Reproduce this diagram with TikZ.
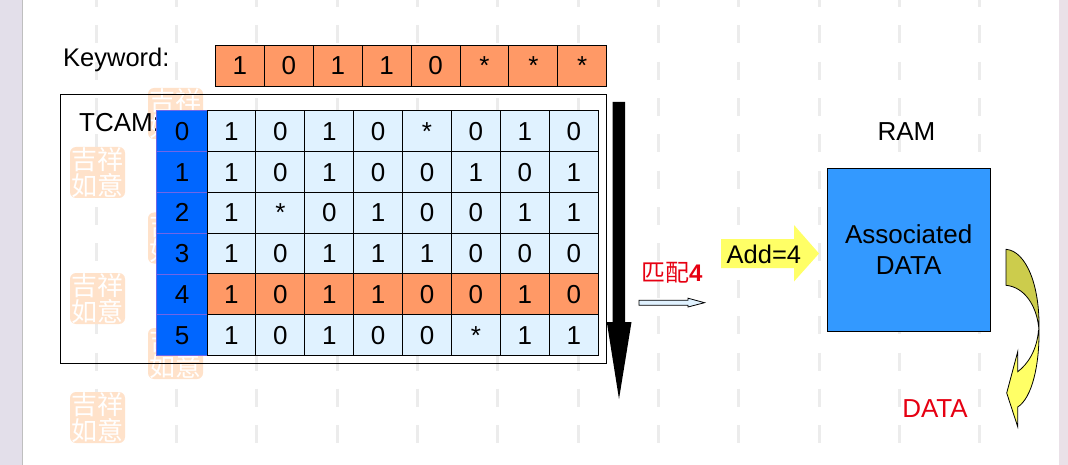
\documentclass[tikz,border=0pt]{standalone}
\usepackage{fontspec}
\setmainfont{Liberation Sans}
\newfontfamily\cjkfont{Noto Sans CJK SC}
\definecolor{orangecell}{HTML}{FF9966}
\definecolor{lightcell}{HTML}{E0F2FF}
\definecolor{indexblue}{HTML}{0066FF}
\definecolor{indexline}{HTML}{7066E6}
\definecolor{ramblue}{HTML}{3399FF}
\definecolor{arrowyellow}{HTML}{FFFF66}
\definecolor{arrowolive}{HTML}{CCCC4C}
\definecolor{labelred}{HTML}{E60012}
\definecolor{sealpeach}{HTML}{FFE2CA}
\definecolor{dashgrey}{HTML}{ECECEC}
\definecolor{sideleft}{HTML}{E3DFEA}
\definecolor{sideright}{HTML}{EAE1E8}
\tikzset{
  bigtext/.style={font=\fontsize{26}{30}\selectfont,inner sep=0pt,text=black},
  cellbox/.style={draw=black,line width=0.9pt,minimum width=48.9pt,minimum height=40.83pt,
    inner sep=0pt,text height=18.6pt,text depth=0pt,font=\fontsize{26}{30}\selectfont},
  indexbox/.style={cellbox,draw=indexline,line width=0.6pt,fill=indexblue,minimum width=50.5pt},
  sealbox/.style={fill=sealpeach,rounded corners=6pt,minimum width=55pt,minimum height=51pt,inner sep=0pt,
    text=white,align=center,font=\cjkfont\fontsize{26}{24}\selectfont},
  blockarrow/.style={draw=black,line width=0.8pt,line join=miter},
  gridfence/.style={draw=dashgrey,line width=3pt},
}
\newcommand{\tablerow}[3]{%
  \pgfmathsetmacro{\rowy}{110.5+40.83*#1+20.4}
  \node[indexbox] (idx#1) at (182,\rowy) {#1};
  \def\rowvals{#3}
  \foreach \v [count=\c] in \rowvals {
    \pgfmathsetmacro{\colx}{207+48.9*(\c-0.5)}
    \node[cellbox,fill=#2] (r#1c\c) at (\colx,\rowy) {\v};
  }
}
\begin{document}
\begin{tikzpicture}[x=1pt,y=-1pt]
\useasboundingbox (0,0) rectangle (1068,465);
\fill[white] (0,0) rectangle (1068,465);
\fill[sideleft] (0,0) rectangle (22,465);
\fill[sideright] (1059,0) rectangle (1068,465);
\draw[line width=1pt,draw=gray!50] (22.5,0) -- (22.5,465);
% background fence of dashes
\foreach \i in {0,...,11}{
  \pgfmathsetmacro{\fx}{96+80.35*\i}
  \foreach \j in {0,...,12}{
    \pgfmathsetmacro{\fy}{-11+36.35*\j}
    \draw[gridfence] (\fx,\fy) -- (\fx,\fy+18);
  }
}
% seals
\foreach \n/\sx/\sy in {a/97.5/172.5,b/97.5/298.5,c/97.5/417.5,d/175.5/113.5,e/175.5/238,f/175.5/353.5}{
  \node[sealbox] (seal\n) at (\sx,\sy) {吉祥\\如意};
}
% Keyword
\node[font=\fontsize{25.5}{30}\selectfont,inner sep=0pt,anchor=base west] (kwlabel) at (63,67) {Keyword:};
\foreach \v [count=\c] in {1,0,1,1,0,*,*,*}{
  \pgfmathsetmacro{\colx}{215.5+48.9*(\c-0.5)}
  \node[cellbox,fill=orangecell,minimum height=41pt] (kw\c) at (\colx,65.5) {\v};
}
% TCAM frame
\node[draw=black,line width=0.9pt,minimum width=546pt,minimum height=268.5pt,inner sep=0pt] (tcamframe) at (333.5,228.7) {};
\node[bigtext,anchor=base west] (tcamlabel) at (79,132) {TCAM:};
% Table
\tablerow{0}{lightcell}{1,0,1,0,*,0,1,0}
\tablerow{1}{lightcell}{1,0,1,0,0,1,0,1}
\tablerow{2}{lightcell}{1,*,0,1,0,0,1,1}
\tablerow{3}{lightcell}{1,0,1,1,1,0,0,0}
\tablerow{4}{orangecell}{1,0,1,1,0,0,1,0}
\tablerow{5}{lightcell}{1,0,1,0,0,*,1,1}
% black search arrow
\fill[black] (612.5,102) -- (625,102) -- (625,322) -- (631.5,322) -- (619,399) -- (606.8,322) -- (612.5,322) -- cycle;
% match label and arrow
\node[inner sep=0pt,text=labelred,anchor=west] (matchlabel) at (641,273)
  {{\cjkfont\fontsize{24}{26}\selectfont 匹配}{\fontsize{24}{26}\selectfont\bfseries 4}};
\draw[blockarrow,fill=lightcell] (639,300.2) -- (688,300.2) -- (688,298.2) -- (704.5,302.7) -- (688,307) -- (688,305.2) -- (639,305.2) -- cycle;
% Add=4
\fill[arrowyellow] (721,239) -- (794,239) -- (794,225) -- (819,253.5) -- (794,281.5) -- (794,268) -- (721,268) -- cycle;
\node[font=\fontsize{25.5}{30}\selectfont,inner sep=0pt,anchor=base west] (addlabel) at (726.5,263) {Add=4};
% RAM
\node[bigtext] (ramlabel) at (906.5,131.5) {RAM};
\node[draw=black,line width=0.9pt,fill=ramblue,minimum width=163.5pt,minimum height=162.5pt,
  inner sep=0pt,align=center,font=\fontsize{26}{31}\selectfont] (rambox) at (908.7,249.7) {Associated\\DATA};
% curved arrow
\path[blockarrow,fill=arrowyellow,draw=black]
  (1038.5,330) .. controls (1037,350) and (1028,364) .. (1017.7,371.7)
  -- (1017.7,351.7) -- (1006.7,393) -- (1017.7,426.7) -- (1017.7,407)
  .. controls (1032,398) and (1039.5,365) .. (1039,330) -- cycle;
\path[blockarrow,fill=arrowolive,draw=black]
  (1006,249.3) .. controls (1026,251) and (1040,285) .. (1039,330)
  .. controls (1037,305) and (1024,287) .. (1006,285.3) -- cycle;
\node[inner sep=0pt,text=labelred,font=\fontsize{26}{30}\selectfont] (datalabel) at (935,409) {DATA};
\end{tikzpicture}
\end{document}
